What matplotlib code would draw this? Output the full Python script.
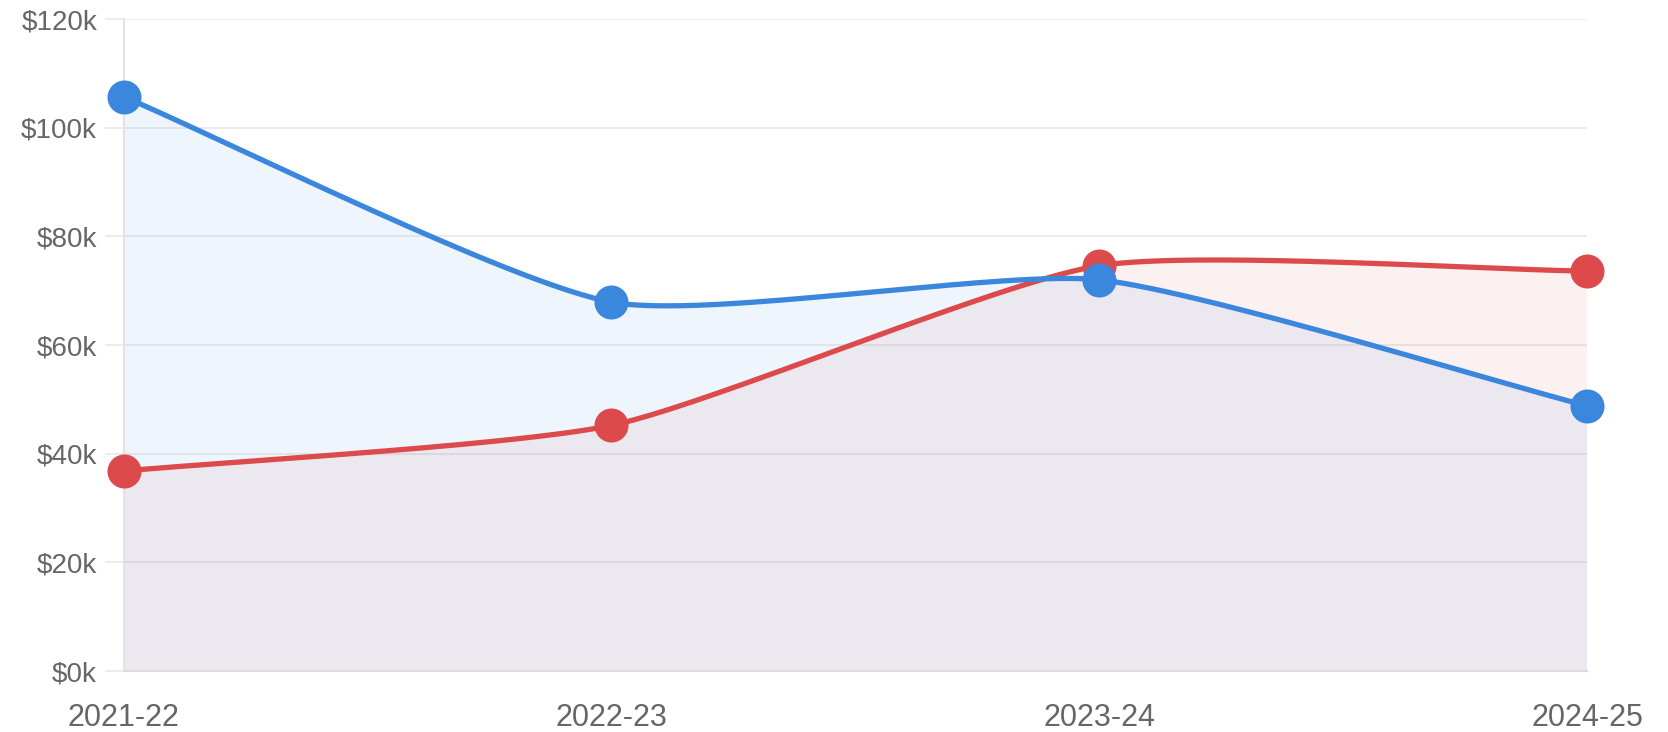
import matplotlib
matplotlib.use("Agg")
import matplotlib.pyplot as plt
from matplotlib.ticker import FuncFormatter, MultipleLocator
import numpy as np

categories = ["2021-22", "2022-23", "2023-24", "2024-25"]
blue_values = [105700, 67900, 72000, 48800]
red_values = [36800, 45200, 74600, 73600]

BLUE = "#3a87dd"
RED = "#dc4a4c"
TEXT = "#666666"
TENSION = 0.2

plt.rcParams["font.family"] = ["Liberation Sans", "DejaVu Sans"]

fig = plt.figure(figsize=(16.68, 7.32), dpi=100)
ax = fig.add_axes([123.5 / 1668, 1 - 671 / 732, (1587 - 123.5) / 1668, (671 - 19) / 732])
ax.set_xlim(0, len(categories) - 1)
ax.set_ylim(0, 120000)


def spline(values):
    xs = np.arange(len(values), dtype=float)
    pts = ax.transData.transform(np.column_stack([xs, values]))
    n = len(pts)
    prev_cp = [None] * n
    next_cp = [None] * n
    for i in range(n):
        p = pts[i]
        a = pts[i - 1] if i > 0 else p
        b = pts[i + 1] if i < n - 1 else p
        d01 = np.hypot(*(p - a))
        d12 = np.hypot(*(b - p))
        tot = d01 + d12
        s01 = d01 / tot if tot else 0
        s12 = d12 / tot if tot else 0
        fa = TENSION * s01
        fb = TENSION * s12
        prev_cp[i] = p - fa * (b - a)
        next_cp[i] = p + fb * (b - a)
    out = [pts[0]]
    t = np.linspace(0, 1, 60)[1:, None]
    for i in range(n - 1):
        P0, P1, P2, P3 = pts[i], next_cp[i], prev_cp[i + 1], pts[i + 1]
        seg = ((1 - t) ** 3) * P0 + 3 * ((1 - t) ** 2) * t * P1 + 3 * (1 - t) * t ** 2 * P2 + t ** 3 * P3
        out.extend(seg)
    out = np.array(out)
    data = ax.transData.inverted().transform(out)
    return data[:, 0], data[:, 1]


# grid
ax.yaxis.set_major_locator(MultipleLocator(20000))
ax.yaxis.set_major_formatter(FuncFormatter(lambda v, p: f"${v/1000:.0f}k"))
ax.set_xticks(range(len(categories)))
ax.set_xticklabels(categories)
ax.grid(axis="y", color="#ececec", linewidth=1.4, zorder=0)
ax.set_axisbelow(True)
for s in ["top", "right"]:
    ax.spines[s].set_visible(False)
ax.spines["left"].set_color("#e3e3e3")
ax.spines["left"].set_linewidth(1.4)
ax.spines["bottom"].set_color("#dcdcdc")
ax.spines["bottom"].set_linewidth(1.6)
ax.tick_params(axis="y", length=14, width=1.4, color="#ececec", pad=5, labelsize=20, labelcolor=TEXT)
ax.tick_params(axis="x", length=0, pad=23, labelsize=22, labelcolor=TEXT)

bx, by = spline(blue_values)
rx, ry = spline(red_values)

# fills (to origin)
ax.fill(np.r_[rx, rx[-1], rx[0]], np.r_[ry, 0, 0], color=RED, alpha=0.075, linewidth=0, zorder=1)
ax.fill(np.r_[bx, bx[-1], bx[0]], np.r_[by, 0, 0], color=BLUE, alpha=0.08, linewidth=0, zorder=1)

# red dataset (drawn underneath)
ax.plot(rx, ry, color=RED, linewidth=3.8, solid_capstyle="round", zorder=3, clip_on=False)
ax.plot(range(len(categories)), red_values, "o", color=RED, markersize=24.5, markeredgewidth=0, zorder=4, clip_on=False)
# blue dataset (on top)
ax.plot(bx, by, color=BLUE, linewidth=3.8, solid_capstyle="round", zorder=5, clip_on=False)
ax.plot(range(len(categories)), blue_values, "o", color=BLUE, markersize=24.5, markeredgewidth=0, zorder=6, clip_on=False)

fig.savefig("out.png", dpi=100)
